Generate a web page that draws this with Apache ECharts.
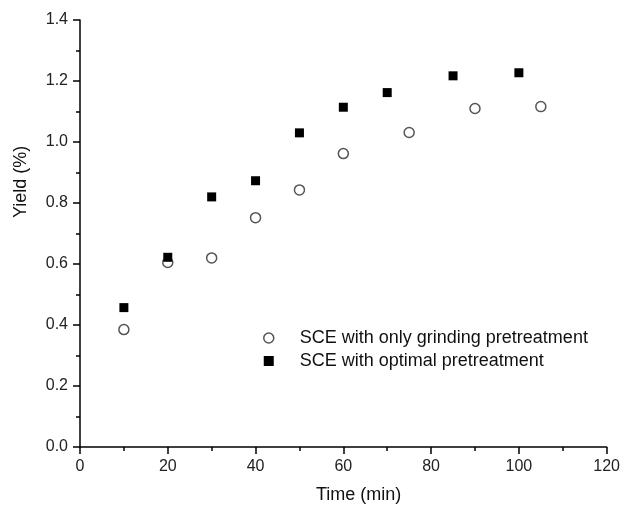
<!DOCTYPE html>
<html>
<head>
<meta charset="utf-8">
<script src="https://cdn.jsdelivr.net/npm/echarts@6/dist/echarts.min.js"></script>
<style>
  html, body { margin: 0; padding: 0; background: #fff; }
  #chart { width: 623px; height: 508px; }
</style>
</head>
<body>
<div id="chart"></div>
<script>
// time (min) / yield (%)
const grindTime = [10, 20, 30, 40, 50, 60, 75, 90, 105];
const grindYield = [0.385, 0.605, 0.62, 0.752, 0.843, 0.962, 1.031, 1.11, 1.116];
const optTime = [10, 20, 30, 40, 50, 60, 70, 85, 100];
const optYield = [0.457, 0.622, 0.82, 0.873, 1.03, 1.114, 1.162, 1.217, 1.227];

const seriesNames = ['SCE with only grinding pretreatment', 'SCE with optimal pretreatment'];

const font = 'Liberation Sans, Arial, sans-serif';

function pairs(xs, ys) {
  return xs.map((x, i) => [x, ys[i]]);
}

const myChart = echarts.init(document.getElementById('chart'));

const option = {
  backgroundColor: '#fff',
  animation: false,
  grid: {
    left: 80,
    right: 14,
    top: 20,
    bottom: 61
  },
  legend: {
    orient: 'vertical',
    left: 258,
    top: 324,
    itemWidth: 10,
    itemHeight: 10,
    itemGap: 5,
    textStyle: {
      fontFamily: font,
      fontSize: 18,
      color: '#111',
      padding: [0, 0, 0, 21]
    },
    data: [
      {
        name: seriesNames[0],
        icon: 'circle',
        itemStyle: { color: '#fff', borderColor: '#555', borderWidth: 1.5, opacity: 1 }
      },
      {
        name: seriesNames[1],
        icon: 'rect',
        itemStyle: { color: '#000', opacity: 1 }
      }
    ]
  },
  xAxis: {
    type: 'value',
    min: 0,
    max: 120,
    interval: 20,
    axisLine: { lineStyle: { color: '#000', width: 1.5 } },
    axisTick: { length: 7, lineStyle: { color: '#000', width: 1.5 } },
    minorTick: { show: true, splitNumber: 2, length: 4, lineStyle: { color: '#000', width: 1.5 } },
    splitLine: { show: false },
    axisLabel: {
      margin: 12,
      fontFamily: font,
      fontSize: 16,
      color: '#222'
    }
  },
  yAxis: {
    type: 'value',
    min: 0,
    max: 1.4,
    interval: 0.2,
    axisLine: { show: true, lineStyle: { color: '#000', width: 1.5 } },
    axisTick: { show: true, length: 7, lineStyle: { color: '#000', width: 1.5 } },
    minorTick: { show: true, splitNumber: 2, length: 4, lineStyle: { color: '#000', width: 1.5 } },
    splitLine: { show: false },
    axisLabel: {
      margin: 12,
      fontFamily: font,
      fontSize: 16,
      color: '#222',
      formatter: v => v.toFixed(1)
    }
  },
  graphic: [
    {
      type: 'text',
      left: 316,
      top: 486,
      style: {
        text: 'Time (min)',
        fontFamily: font,
        fontSize: 18,
        fill: '#111'
      }
    },
    {
      type: 'text',
      x: 12,
      y: 218,
      rotation: Math.PI / 2,
      style: {
        text: 'Yield (%)',
        fontFamily: font,
        fontSize: 18,
        fill: '#111'
      }
    }
  ],
  series: [
    {
      name: seriesNames[0],
      type: 'scatter',
      symbol: 'circle',
      symbolSize: 10,
      itemStyle: { color: '#fff', borderColor: '#555', borderWidth: 1.5, opacity: 1 },
      data: pairs(grindTime, grindYield)
    },
    {
      name: seriesNames[1],
      type: 'scatter',
      symbol: 'rect',
      symbolSize: 9,
      itemStyle: { color: '#000', opacity: 1 },
      data: pairs(optTime, optYield)
    }
  ]
};

myChart.setOption(option);

window.addEventListener('resize', function () {
  myChart.resize();
});
</script>
</body>
</html>
